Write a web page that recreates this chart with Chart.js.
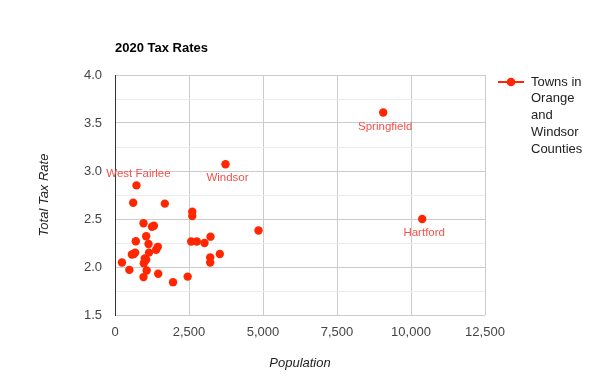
<!DOCTYPE html>
<html>
<head>
<meta charset="utf-8">
<script src="https://cdn.jsdelivr.net/npm/chart.js@4"></script>
<style>
  html, body { margin: 0; padding: 0; background: #fff; }
  #wrap { width: 600px; height: 390px; }
</style>
</head>
<body>
<div id="wrap"><canvas id="chart" width="600" height="390"></canvas></div>
<script>
const chartTitle = '2020 Tax Rates';
const seriesName = 'Towns in Orange and Windsor Counties';
const xTitle = 'Population';
const yTitle = 'Total Tax Rate';

const populations = [
  726, 3733, 9061, 10378, 614, 1683, 2610, 2610, 963, 1250,
  1315, 4848, 1053, 3226, 703, 2574, 2765, 3024, 1132, 1447,
  1391, 1150, 681, 570, 636, 3541, 1007, 1053, 3216, 3216,
  235, 974, 485, 1070, 1459, 963, 2455, 1960,
];
const taxRates = [
  2.85, 3.07, 3.61, 2.50, 2.67, 2.66, 2.575, 2.53, 2.455, 2.42,
  2.43, 2.38, 2.32, 2.316, 2.268, 2.265, 2.265, 2.25, 2.24, 2.21,
  2.18, 2.15, 2.15, 2.13, 2.135, 2.135, 2.09, 2.075, 2.10, 2.046,
  2.047, 2.04, 1.97, 1.964, 1.93, 1.895, 1.90, 1.842,
];
const townLabels = [
  'West Fairlee', 'Windsor', 'Springfield', 'Hartford', '', '', '', '', '', '',
  '', '', '', '', '', '', '', '', '', '',
  '', '', '', '', '', '', '', '', '', '',
  '', '', '', '', '', '', '', '',
];

const xTicks = [0, 2500, 5000, 7500, 10000, 12500];
const yTicks = [1.5, 2.0, 2.5, 3.0, 3.5, 4.0];

const RED = '#ff2600';
const FONT = 'Arial, "Liberation Sans", sans-serif';

const points = populations.map((p, i) => ({ x: p, y: taxRates[i] }));

// title, legend and point labels
const extras = {
  id: 'extras',
  afterDatasetsDraw(chart) {
    const { ctx } = chart;
    const xs = chart.scales.x;
    const ys = chart.scales.y;
    ctx.save();

    // point labels
    ctx.font = '11.5px ' + FONT;
    ctx.fillStyle = '#f5504a';
    ctx.textAlign = 'center';
    ctx.textBaseline = 'middle';
    townLabels.forEach((name, i) => {
      if (!name) return;
      const px = xs.getPixelForValue(populations[i]);
      const py = ys.getPixelForValue(taxRates[i]);
      const above = name === 'West Fairlee';
      ctx.fillText(name, px + 2, above ? py - 12 : py + 14);
    });

    // title
    ctx.font = 'bold 13px ' + FONT;
    ctx.fillStyle = '#000';
    ctx.textAlign = 'left';
    ctx.fillText(chartTitle, 115, 48);

    // legend
    ctx.strokeStyle = RED;
    ctx.lineWidth = 2;
    ctx.beginPath();
    ctx.moveTo(498, 82);
    ctx.lineTo(524, 82);
    ctx.stroke();
    ctx.fillStyle = RED;
    ctx.beginPath();
    ctx.arc(511, 82, 4.3, 0, Math.PI * 2);
    ctx.fill();

    ctx.font = '13px ' + FONT;
    ctx.fillStyle = '#222';
    const words = seriesName.split(' ');
    const lines = [];
    let cur = '';
    words.forEach((w) => {
      const test = cur ? cur + ' ' + w : w;
      if (cur && ctx.measureText(test).width > 60) {
        lines.push(cur);
        cur = w;
      } else {
        cur = test;
      }
    });
    if (cur) lines.push(cur);
    lines.forEach((l, i) => ctx.fillText(l, 531, 82 + i * 16.8));

    ctx.restore();
  },
};

new Chart(document.getElementById('chart'), {
  type: 'scatter',
  data: {
    datasets: [{
      label: seriesName,
      data: points,
      backgroundColor: RED,
      borderColor: RED,
      pointRadius: 4.2,
      pointBorderWidth: 0,
      pointHoverRadius: 4.2,
    }],
  },
  options: {
    responsive: false,
    animation: false,
    events: [],
    layout: { padding: { top: 75, right: 115, bottom: 0, left: 0 } },
    plugins: {
      legend: { display: false },
      tooltip: { enabled: false },
    },
    scales: {
      x: {
        type: 'linear',
        min: xTicks[0],
        max: xTicks[xTicks.length - 1],
        afterFit: (s) => { s.height = 75; },
        afterBuildTicks: (s) => { s.ticks = xTicks.map((v) => ({ value: v })); },
        grid: { color: '#cccccc', drawTicks: false },
        border: { display: false },
        ticks: {
          padding: 10,
          color: '#444',
          font: { family: FONT, size: 13 },
          callback: (v) => v.toLocaleString('en-US'),
        },
        title: {
          display: true,
          text: xTitle,
          color: '#222',
          font: { family: FONT, size: 13, style: 'italic' },
          padding: { top: 0, bottom: 19 },
        },
      },
      y: {
        type: 'linear',
        min: yTicks[0],
        max: yTicks[yTicks.length - 1],
        afterFit: (s) => { s.width = 115; },
        afterBuildTicks: (s) => {
          const t = [];
          for (let i = 0; i < yTicks.length; i++) {
            t.push({ value: yTicks[i] });
            if (i < yTicks.length - 1) t.push({ value: (yTicks[i] + yTicks[i + 1]) / 2 });
          }
          s.ticks = t;
        },
        grid: {
          drawTicks: false,
          color: (c) => (yTicks.includes(c.tick.value) ? '#cccccc' : '#ebebeb'),
        },
        border: { display: true, color: '#333' },
        ticks: {
          autoSkip: false,
          padding: 13,
          color: '#444',
          font: { family: FONT, size: 13 },
          callback: (v) => (yTicks.includes(v) ? v.toFixed(1) : ''),
        },
        title: {
          display: true,
          text: yTitle,
          color: '#222',
          font: { family: FONT, size: 13, style: 'italic' },
          padding: { top: 37, bottom: 0 },
        },
      },
    },
  },
  plugins: [extras],
});
</script>
</body>
</html>
